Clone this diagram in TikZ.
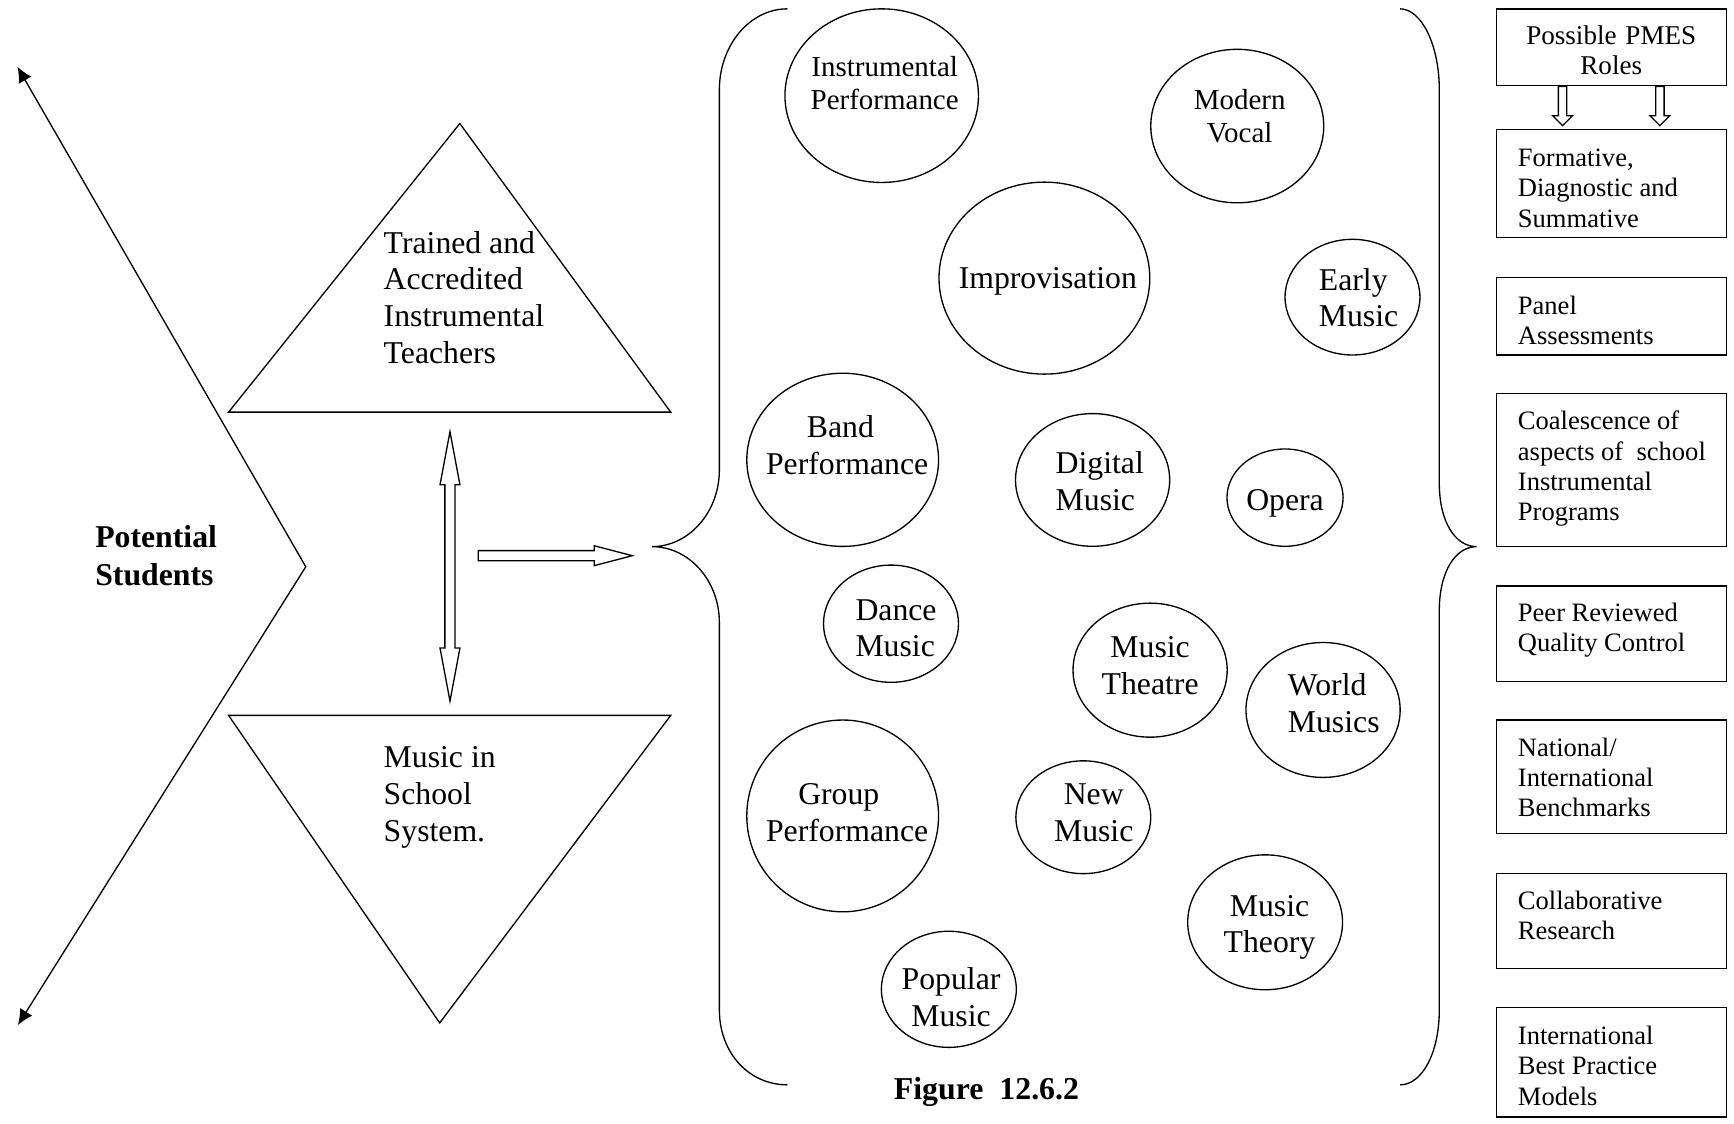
\documentclass[tikz,border=0pt]{standalone}
\usepackage{fontspec}
\setmainfont{Liberation Serif}
\usetikzlibrary{arrows.meta,shapes.geometric}
% #1 start, #2 angle, #3 length, #4 shaft half width, #5 head half width, #6 head length
\newcommand\hollowarrow[6]{%
  \draw[hollowline,shift={(#1)},rotate=#2] (0,-#4) -- ({#3-#6},-#4) -- ({#3-#6},-#5) -- (#3,0)
    -- ({#3-#6},#5) -- ({#3-#6},#4) -- (0,#4) -- cycle;}
\newcommand\hollowdouble[6]{%
  \draw[hollowline,shift={(#1)},rotate=#2] (0,0) -- (#6,-#5) -- (#6,-#4) -- ({#3-#6},-#4)
    -- ({#3-#6},-#5) -- (#3,0) -- ({#3-#6},#5) -- ({#3-#6},#4) -- (#6,#4) -- (#6,#5) -- cycle;}
\begin{document}
\begin{tikzpicture}[x=1pt,y=-1pt,
  line width=1.2pt,
  every node/.style={inner sep=0pt},
  bubble/.style={draw, ellipse, line width=1.2pt},
  tritext/.style={font=\fontsize{28.7}{33.2}\selectfont, align=left, anchor=west},
  ctext/.style={font=\fontsize{28.7}{33}\selectfont, align=center},
  ltext/.style={font=\fontsize{28.7}{33}\selectfont, align=left, anchor=west},
  stext/.style={font=\fontsize{26.2}{30.2}\selectfont, align=center},
  rolebox/.style={draw, rectangle, minimum width=208.5pt},
  roletext/.style={align=left, anchor=west, font=\fontsize{24}{27.5}\selectfont},
  hollowline/.style={draw, line width=1.2pt, fill=white},
  tipstyle/.style={{Latex[length=14pt,width=13pt]}-{Latex[length=14pt,width=13pt]}},
]
\path[use as bounding box, fill=white] (0,0) rectangle (1568,1016);

% chevron with arrows
\coordinate (cu) at (15.7,60.3);
\coordinate (cap) at (276.5,512.5);
\coordinate (cl) at (16.2,926.9);
\draw[tipstyle, line join=miter] (cu) -- (cap) -- (cl);
\node[font=\bfseries\fontsize{28.7}{34}\selectfont, align=left, anchor=west] (ps) at (85.6,502.5) {Potential\\Students};

% triangles
\coordinate (ua) at (415.8,111.7);
\coordinate (ul) at (206.7,372.7);
\coordinate (ur) at (606.5,372.7);
\draw[line join=miter] (ua) -- (ul) -- (ur) -- cycle;
\node[tritext] (tt) at (346.4,268.8) {Trained and\\Accredited\\Instrumental\\Teachers};

\coordinate (ll) at (206.7,646.9);
\coordinate (lr) at (606.5,646.9);
\coordinate (la) at (397.6,925);
\draw[line join=miter] (ll) -- (lr) -- (la) -- cycle;
\node[tritext] (ms) at (346.4,721) {Music in\\School\\System.};

% hollow arrows
\coordinate (vtop) at (406.9,390.3);
\hollowdouble{vtop}{-90}{243.7}{4.6}{9}{48}
\coordinate (hs) at (432.5,502.5);
\hollowarrow{hs}{0}{139.3}{4.6}{9}{34.5}

% braces
\coordinate (lbt) at (589.5,494.3);
\draw (712,8) .. controls (678,8) and (650.5,41) .. (650.5,81) -- (650.5,425)
  .. controls (650.5,463) and (623,494.3) .. (lbt)
  .. controls (623,494.3) and (650.5,525) .. (650.5,563) -- (650.5,913)
  .. controls (650.5,953) and (678,981) .. (712,981);
\coordinate (rbt) at (1335.3,494.3);
\draw (1266,8) .. controls (1285.5,8) and (1301.5,41) .. (1301.5,81) -- (1301.5,437)
  .. controls (1301.5,472) and (1316,494.3) .. (rbt)
  .. controls (1316,494.3) and (1301.5,517) .. (1301.5,552) -- (1301.5,913)
  .. controls (1301.5,953) and (1285.5,981) .. (1266,981);

% bubbles
\node[bubble, minimum width=175pt, minimum height=157pt] (ip) at (797.3,86.5) {};
\node[bubble, minimum width=156.4pt, minimum height=138.8pt] (mv) at (1118.8,114) {};
\node[bubble, minimum width=190.6pt, minimum height=173.6pt] (im) at (944.4,251.5) {};
\node[bubble, minimum width=122pt, minimum height=104.6pt] (em) at (1223,268.7) {};
\node[bubble, minimum width=173.4pt, minimum height=156.6pt] (bp) at (762,415.8) {};
\node[bubble, minimum width=139.4pt, minimum height=120pt] (dm) at (988,434) {};
\node[bubble, minimum width=105pt, minimum height=88pt] (op) at (1162,450) {};
\node[bubble, minimum width=122pt, minimum height=106pt] (da) at (805.7,564) {};
\node[bubble, minimum width=139.4pt, minimum height=121.2pt] (mt) at (1040,606) {};
\node[bubble, minimum width=139.4pt, minimum height=122pt] (wm) at (1196.4,642) {};
\node[bubble, minimum width=173.4pt, minimum height=173.4pt] (gp) at (762,737.8) {};
\node[bubble, minimum width=122pt, minimum height=102pt] (nm) at (979.6,739) {};
\node[bubble, minimum width=140pt, minimum height=122pt] (mth) at (1144,834) {};
\node[bubble, minimum width=122pt, minimum height=105pt] (pm) at (858,894.6) {};

\node[stext] (ipt) at (800,75) {Instrumental\\Performance};
\node[stext] (mvt) at (1121,105) {Modern\\Vocal};
\node[ctext] (imt) at (947.5,254.8) {Improvisation};
\node[ltext] (emt) at (1192,269) {Early\\Music};
\node[ctext] (bpt) at (766,402.5) {Band\hspace*{12pt}\\Performance};
\node[ltext] (dmt) at (954,435) {Digital\\Music};
\node[ctext] (opt) at (1162,454.8) {Opera};
\node[ltext] (dat) at (773,568) {Dance\\Music};
\node[ctext] (mtt) at (1040,602) {Music\\Theatre};
\node[ltext] (wmt) at (1164,635.7) {World\\Musics};
\node[ctext] (gpt) at (766,735) {Group\hspace*{15pt}\\Performance};
\node[ctext] (nmt) at (989,735) {New\\Music};
\node[ctext] (mtht) at (1148,838.5) {Music\\Theory};
\node[ctext] (pmt) at (860,901.6) {Popular\\Music};

\node[font=\bfseries\fontsize{28.8}{33}\selectfont] (fig) at (892,987) {Figure\ \ 12.6.2};

% role boxes
\node[rolebox, minimum height=69.5pt] (b1) at (1457.25,42.75) {};
\node[rolebox, minimum height=98pt] (b2) at (1457.25,166) {};
\node[rolebox, minimum height=70pt] (b3) at (1457.25,286) {};
\node[rolebox, minimum height=138pt] (b4) at (1457.25,425) {};
\node[rolebox, minimum height=86pt] (b5) at (1457.25,573) {};
\node[rolebox, minimum height=103pt] (b6) at (1457.25,702.5) {};
\node[rolebox, minimum height=86pt] (b7) at (1457.25,833) {};
\node[rolebox, minimum height=99pt] (b8) at (1457.25,960.5) {};

\node[align=center, font=\fontsize{24.5}{27.5}\selectfont] (b1t) at (1457,45.5) {Possible\hspace{8pt}PMES\\Roles};
\node[roletext] (b2t) at (1372,170) {Formative,\\Diagnostic and\\Summative};
\node[roletext] (b3t) at (1372,290) {Panel\\Assessments};
\node[roletext] (b4t) at (1372,424) {Coalescence of\\aspects of\ \ school\\Instrumental\\Programs};
\node[roletext] (b5t) at (1372,570) {Peer Reviewed\\Quality Control};
\node[roletext] (b6t) at (1372,703) {National/\\International\\Benchmarks};
\node[roletext] (b7t) at (1372,828) {Collaborative\\Research};
\node[roletext] (b8t) at (1372,963.5) {International\\Best Practice\\Models};

\coordinate (d1) at ([xshift=-44.25pt]b1.south);
\coordinate (d2) at ([xshift=43.75pt]b1.south);
\hollowarrow{d1}{-90}{35.5}{3.8}{9}{9}
\hollowarrow{d2}{-90}{35.5}{3.8}{9}{9}
\end{tikzpicture}
\end{document}
